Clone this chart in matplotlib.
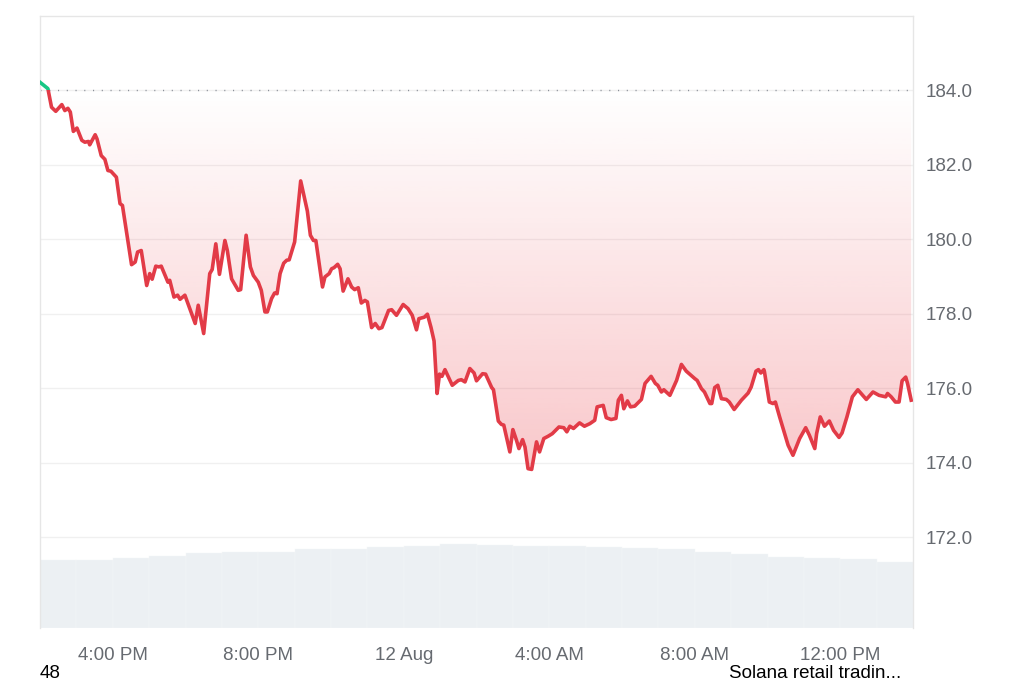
import matplotlib
matplotlib.use("Agg")
import matplotlib.pyplot as plt
import matplotlib.patches as mp
import numpy as np
import pandas as pd

plt.rcParams['font.family'] = ['Liberation Sans', 'DejaVu Sans']

# SOL/USD, 11 Aug 14:00 -> 12 Aug 14:00; minutes since start and price
minutes = [0, 13, 19, 26, 36, 41, 46, 50, 55, 61, 69, 74, 80, 82, 91, 94,
           101, 107, 112, 117, 126, 132, 136, 151, 157, 161, 167, 176, 181,
           185, 191, 196, 200, 211, 214, 221, 227, 231, 239, 256, 261, 270,
           280, 284, 290, 296, 305, 309, 316, 327, 331, 340, 347, 352, 360,
           365, 371, 375, 382, 387, 391, 396, 402, 407, 411, 420, 430, 441,
           446, 451, 455, 466, 470, 477, 481, 485, 491, 495, 500, 508, 514,
           519, 525, 530, 536, 540, 547, 553, 559, 564, 575, 580, 588, 599,
           607, 614, 621, 625, 634, 639, 645, 650, 655, 659, 663, 668, 680,
           690, 695, 701, 709, 716, 720, 730, 735, 745, 748, 756, 761, 765,
           775, 780, 786, 790, 796, 800, 805, 811, 819, 824, 831, 838, 845,
           856, 864, 869, 874, 880, 890, 898, 907, 915, 919, 929, 934, 942,
           950, 954, 959, 963, 969, 974, 981, 992, 998, 1008, 1015, 1019,
           1025, 1029, 1039, 1050, 1058, 1066, 1080, 1084, 1091, 1096, 1105,
           1108, 1113, 1118, 1124, 1132, 1137, 1145, 1157, 1168, 1173, 1181,
           1185, 1189, 1194, 1195, 1203, 1209, 1213, 1220, 1234, 1242, 1253,
           1263, 1269, 1278, 1281, 1287, 1294, 1302, 1309, 1318, 1323, 1331,
           1340, 1349, 1363, 1374, 1384, 1395, 1398, 1404, 1411, 1417, 1422,
           1428, 1431, 1437]
price = [184.22, 184.05, 183.55, 183.44, 183.62, 183.46, 183.52, 183.42,
         182.90, 182.99, 182.66, 182.61, 182.63, 182.54, 182.81, 182.70,
         182.25, 182.15, 181.85, 181.83, 181.67, 180.96, 180.91, 179.32,
         179.39, 179.66, 179.70, 178.76, 179.08, 178.93, 179.28, 179.26,
         179.28, 178.85, 178.90, 178.45, 178.50, 178.39, 178.50, 177.74,
         178.23, 177.47, 179.08, 179.19, 179.88, 179.06, 179.97, 179.70,
         178.94, 178.63, 178.65, 180.11, 179.26, 179.03, 178.85, 178.63,
         178.05, 178.05, 178.41, 178.56, 178.54, 179.08, 179.36, 179.44,
         179.45, 179.93, 181.57, 180.76, 180.11, 179.97, 179.97, 178.72,
         178.99, 179.08, 179.21, 179.24, 179.33, 179.21, 178.61, 178.94,
         178.72, 178.65, 178.70, 178.29, 178.36, 178.32, 177.63, 177.74,
         177.60, 177.63, 178.09, 178.11, 177.96, 178.25, 178.14, 177.96,
         177.57, 177.87, 177.91, 177.99, 177.63, 177.27, 175.86, 176.38,
         176.32, 176.50, 176.08, 176.21, 176.23, 176.17, 176.53, 176.41,
         176.20, 176.39, 176.38, 176.02, 175.96, 175.12, 175.03, 175.01,
         174.29, 174.89, 174.60, 174.38, 174.62, 174.42, 173.84, 173.82,
         174.56, 174.29, 174.65, 174.71, 174.78, 174.96, 174.94, 174.83,
         174.98, 174.92, 175.07, 174.98, 175.05, 175.14, 175.50, 175.54,
         175.21, 175.16, 175.19, 175.68, 175.81, 175.45, 175.66, 175.50,
         175.52, 175.70, 176.13, 176.32, 176.13, 176.08, 175.90, 175.96,
         175.81, 176.21, 176.64, 176.46, 176.26, 176.21, 175.99, 175.90,
         175.59, 175.59, 176.02, 176.08, 175.72, 175.70, 175.63, 175.43,
         175.68, 175.87, 176.03, 176.46, 176.50, 176.41, 176.50, 176.44,
         175.63, 175.59, 175.63, 175.23, 174.47, 174.20, 174.65, 174.94,
         174.74, 174.38, 174.78, 175.23, 174.98, 175.12, 174.87, 174.68,
         174.80, 175.23, 175.77, 175.96, 175.70, 175.90, 175.81, 175.77,
         175.86, 175.77, 175.63, 175.63, 176.20, 176.30, 176.13, 175.68]

# hourly trading volume (billions USD, rough)
vol_hourly = [6.8, 6.8, 7.0, 7.2, 7.5, 7.6, 7.65, 7.9, 7.95, 8.1, 8.25, 8.4,
              8.35, 8.25, 8.2, 8.1, 8.05, 7.9, 7.6, 7.4, 7.1, 7.05, 6.9, 6.6]

open_price = 184.0
y_ticks = [172.0, 174.0, 176.0, 178.0, 180.0, 182.0, 184.0]
x_tick_times = ['2024-08-11 16:00', '2024-08-11 20:00', '2024-08-12 00:00',
                '2024-08-12 04:00', '2024-08-12 08:00', '2024-08-12 12:00']
x_tick_labels = ['4:00 PM', '8:00 PM', '12 Aug', '4:00 AM', '8:00 AM', '12:00 PM']

start = pd.Timestamp('2024-08-11 14:00')
t = start + pd.to_timedelta(minutes, unit='min')
t_vol = start + pd.to_timedelta(np.arange(len(vol_hourly)) * 60, unit='min')
t_end = start + pd.Timedelta(hours=24)

RED = '#e23b47'
GREEN = '#16c784'

fig = plt.figure(figsize=(10.24, 6.83), dpi=100)
ax = fig.add_axes([40 / 1024, 1 - 628 / 683, 873 / 1024, 612 / 683])
ax_v = ax.twinx()
ax.set_zorder(2)
ax.patch.set_visible(False)

# volume
ax_v.bar(t_vol, vol_hourly, width=pd.Timedelta(minutes=60), align='edge',
         color='#ecf0f3', edgecolor='#f4f6f8', linewidth=0.3)
ax_v.set_ylim(0, 61.2)
ax_v.set_yticks([])
for s in ax_v.spines.values():
    s.set_visible(False)

ymin, ymax = 169.56, 186.0
ax.set_ylim(ymin, ymax)
ax.set_xlim(start, t_end)

# gradient area between price and open
poly = ax.fill_between(t, price, open_price, color='none', lw=0)
grad = np.zeros((256, 1, 4))
grad[..., 0] = 234 / 255
grad[..., 1] = 57 / 255
grad[..., 2] = 67 / 255
grad[:, 0, 3] = np.linspace(0.0, 0.28, 256)
x0, x1 = ax.get_xlim()
im = ax.imshow(grad, aspect='auto', origin='upper',
               extent=[x0, x1, min(price), open_price], zorder=1)
path = poly.get_paths()[0]
im.set_clip_path(path, transform=ax.transData)

# price line, green above open, red below
lr, = ax.plot(t, price, color=RED, lw=2.6, zorder=3, solid_joinstyle='round')
lg, = ax.plot(t, price, color=GREEN, lw=2.6, zorder=3, solid_joinstyle='round')
below = mp.Rectangle((x0, ymin), x1 - x0, open_price - ymin, transform=ax.transData)
above = mp.Rectangle((x0, open_price), x1 - x0, ymax - open_price, transform=ax.transData)
lr.set_clip_path(below)
lg.set_clip_path(above)

ax.axhline(open_price, color='#8a8f98', lw=1, dashes=(0.8, 5.5), zorder=2)

ax.set_yticks(y_ticks)
ax.set_yticklabels([f'{v:.1f}' for v in y_ticks])
ax.yaxis.tick_right()
ax.grid(axis='y', color='#f0f0f0', lw=1)
ax.set_axisbelow(True)
ax.set_xticks(pd.to_datetime(x_tick_times))
ax.set_xticklabels(x_tick_labels)
ax.tick_params(axis='both', length=0, labelsize=13.5, labelcolor='#666a70')
ax.tick_params(axis='x', pad=14)
ax.tick_params(axis='y', pad=9)

for side in ['left', 'right', 'top']:
    ax.spines[side].set_color('#e6e6e6')
    ax.spines[side].set_linewidth(1)
ax.spines['bottom'].set_visible(False)

fig.text(40 / 1024, 0.002, '48', fontsize=13.5, color='black',
         ha='left', va='bottom')
fig.text(901 / 1024, 0.002, 'Solana retail tradin...', fontsize=13.5,
         color='black', ha='right', va='bottom')

fig.savefig('out.png', dpi=100)
